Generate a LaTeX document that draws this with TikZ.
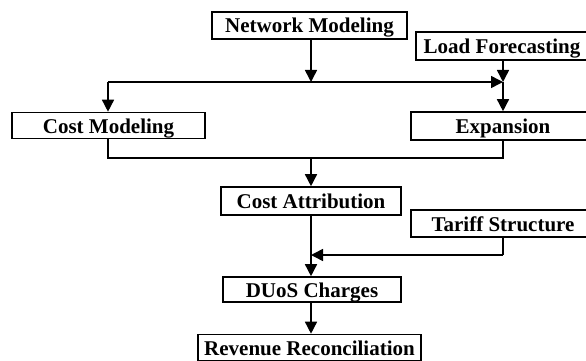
\documentclass[tikz,border=0pt]{standalone}
\usepackage{fontspec}
\setmainfont{Liberation Serif}
\usetikzlibrary{arrows.meta}
\begin{document}
\begin{tikzpicture}[x=1pt,y=-1pt,
  box/.style={draw,line width=1.6pt,inner sep=0pt,
    text height=15pt,text depth=0pt,
    font=\fontsize{21}{24}\selectfont\bfseries},
  link/.style={line width=1.5pt},
  arr/.style={link,-{Triangle[width=12pt,length=12pt]}}]
\useasboundingbox (0,0) rectangle (586,361);

% process boxes
\node[box,minimum width=195pt,minimum height=27pt] (nm) at (309.5,25.5) {Network Modeling};
\node[box,minimum width=172pt,minimum height=28pt] (lf) at (502,46) {Load Forecasting};
\node[box,minimum width=193pt,minimum height=26pt] (cm) at (108.5,125.5) {Cost Modeling};
\node[box,minimum width=184pt,minimum height=28pt] (ex) at (503,126) {Expansion};
\node[box,minimum width=180pt,minimum height=28pt] (ca) at (311,201) {Cost Attribution};
\node[box,minimum width=184pt,minimum height=27pt] (ts) at (503,223.5) {Tariff Structure};
\node[box,minimum width=178pt,minimum height=25pt] (du) at (312,289.5) {DUoS Charges};
\node[box,minimum width=223pt,minimum height=26pt] (rr) at (309.5,347.5) {Revenue Reconciliation};

% junction points
\coordinate (jl) at (108,82);
\coordinate (jr) at (503,82);
\coordinate (jm) at (311,82);
\coordinate (bl) at (108,158);
\coordinate (br) at (503,158);
\coordinate (bm) at (311,158);
\coordinate (tr) at (503,255);
\coordinate (tm) at (311,255);

% upper distribution
\draw[arr] (nm.south -| jm) -- (jm);
\draw[arr] (jl) -- (jr);
\draw[arr] (jl) -- (cm.north -| jl);
\draw[arr] (lf.south -| jr) -- (jr);
\draw[arr] (jr) -- (ex.north -| jr);

% merge into cost attribution
\draw[link] (cm.south -| bl) -- (bl) -- (br) -- (ex.south -| br);
\draw[arr] (bm) -- (ca.north -| bm);

% lower chain
\draw[arr] (ca.south -| bm) -- (du.north -| bm);
\draw[link] (ts.south -| tr) -- (tr);
\draw[arr] (tr) -- (tm);
\draw[arr] (du.south -| bm) -- (rr.north -| bm);
\end{tikzpicture}
\end{document}
